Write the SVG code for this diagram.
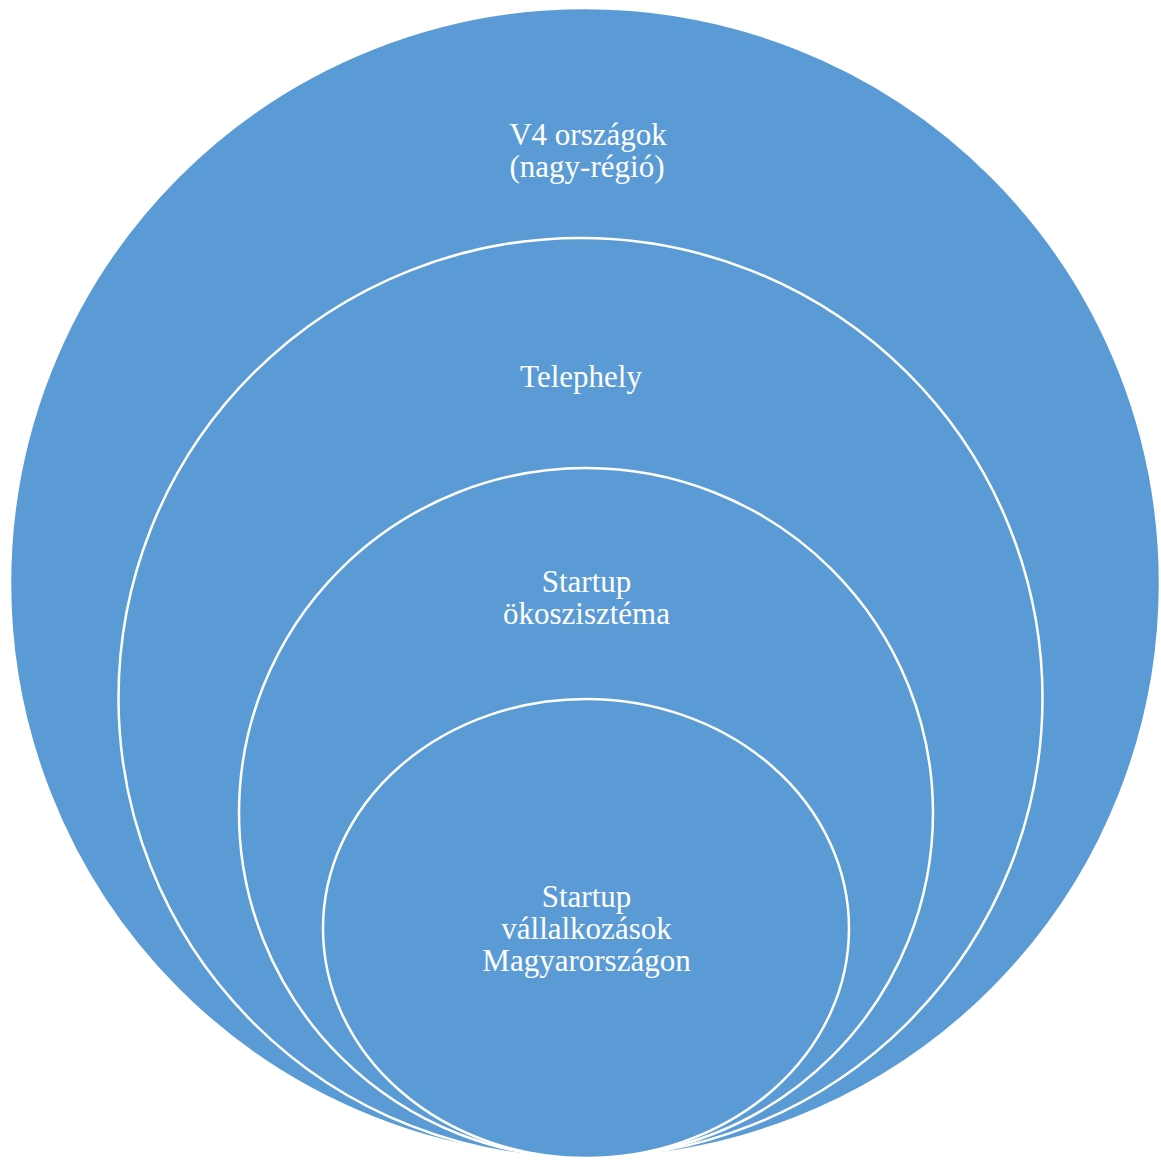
<svg xmlns="http://www.w3.org/2000/svg" width="1161" height="1160" viewBox="0 0 1161 1160">
<style>
.c{fill:#5B9BD5;stroke:#FFFFFF;stroke-width:2.5}
.t{font-family:"Liberation Serif","Times New Roman",serif;font-size:31px;fill:#FFFFFF;text-anchor:middle}
</style>
<rect width="1161" height="1160" fill="#FFFFFF"/>
<g id="node-v4">
<ellipse class="c" cx="585" cy="583" rx="575" ry="575" stroke="none"/>
<text class="t" x="588" y="145">V4 országok</text>
<text class="t" x="587" y="177">(nagy-régió)</text>
</g>
<g id="node-telephely">
<ellipse class="c" cx="580.5" cy="698" rx="462" ry="460"/>
<text class="t" x="581" y="387">Telephely</text>
</g>
<g id="node-okoszisztema">
<ellipse class="c" cx="586" cy="813" rx="347" ry="345"/>
<text class="t" x="586.5" y="592">Startup</text>
<text class="t" x="586.5" y="624">ökoszisztéma</text>
</g>
<g id="node-vallalkozasok">
<ellipse class="c" cx="586" cy="928.5" rx="263" ry="229.5"/>
<text class="t" x="586.5" y="907">Startup</text>
<text class="t" x="586.5" y="939">vállalkozások</text>
<text class="t" x="586.5" y="971">Magyarországon</text>
</g>
<g id="connectors"/>
</svg>
